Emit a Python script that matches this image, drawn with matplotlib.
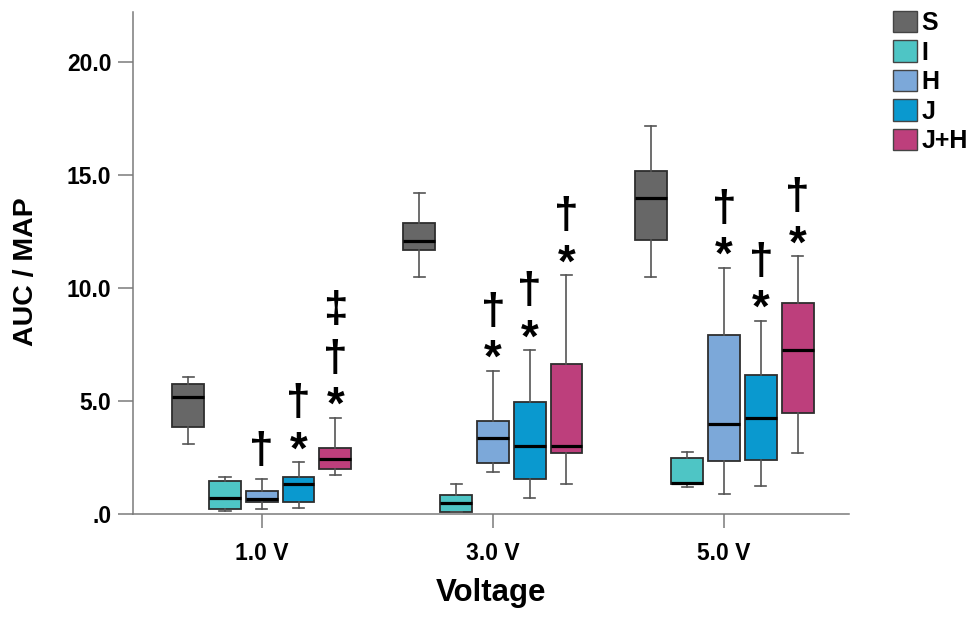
import matplotlib
matplotlib.use("Agg")
import matplotlib.pyplot as plt
from matplotlib.patches import Patch
from matplotlib.textpath import TextPath
from matplotlib.font_manager import FontProperties

# ---------------- data ----------------
groups = ["1.0 V", "3.0 V", "5.0 V"]
series = ["S", "I", "H", "J", "J+H"]
colors = ["#676767", "#4EC5C5", "#7CA8D9", "#0A99CF", "#BD3F7C"]

# per series, values for groups 1.0 V, 3.0 V, 5.0 V
S_whislo = [3.11, 10.46, 10.47]
S_q1     = [3.84, 11.68, 12.12]
S_med    = [5.17, 12.06, 13.96]
S_q3     = [5.74, 12.87, 15.17]
S_whishi = [6.05, 14.17, 17.16]

I_whislo = [0.13, 0.09, 1.22]
I_q1     = [0.23, 0.12, 1.34]
I_med    = [0.71, 0.51, 1.37]
I_q3     = [1.47, 0.87, 2.50]
I_whishi = [1.63, 1.34, 2.77]

H_whislo = [0.23, 1.87, 0.88]
H_q1     = [0.53, 2.25, 2.37]
H_med    = [0.66, 3.39, 3.98]
H_q3     = [1.04, 4.12, 7.92]
H_whishi = [1.56, 6.35, 10.90]

J_whislo = [0.28, 0.72, 1.27]
J_q1     = [0.53, 1.55, 2.41]
J_med    = [1.34, 3.00, 4.27]
J_q3     = [1.65, 4.96, 6.16]
J_whishi = [2.31, 7.26, 8.56]

JH_whislo = [1.75, 1.35, 2.69]
JH_q1     = [1.99, 2.69, 4.46]
JH_med    = [2.43, 3.02, 7.26]
JH_q3     = [2.93, 6.63, 9.32]
JH_whishi = [4.27, 10.57, 11.41]

# significance marks, read top-to-bottom as printed above each box
S_marks  = ["", "", ""]
I_marks  = ["", "", ""]
H_marks  = ["†", "†*", "†*"]
J_marks  = ["†*", "†*", "†*"]
JH_marks = ["‡†*", "†*", "†*"]

y_ticks = [0, 5, 10, 15, 20]
y_ticklabels = [".0", "5.0", "10.0", "15.0", "20.0"]

all_stats = [
    (S_whislo, S_q1, S_med, S_q3, S_whishi, S_marks),
    (I_whislo, I_q1, I_med, I_q3, I_whishi, I_marks),
    (H_whislo, H_q1, H_med, H_q3, H_whishi, H_marks),
    (J_whislo, J_q1, J_med, J_q3, J_whishi, J_marks),
    (JH_whislo, JH_q1, JH_med, JH_q3, JH_whishi, JH_marks),
]

# ---------------- figure ----------------
DPI = 100
fig = plt.figure(figsize=(9.78, 6.31), dpi=DPI)
ax = fig.add_axes([133 / 978, 1 - 514.3 / 631, (849 - 133) / 978, (514.3 - 11.7) / 631])

FONT = "Liberation Sans"
step = 0.159
width = 0.138
axis_col = "#7a7a7a"

fp_sym = FontProperties(family=FONT, weight="bold")
target_px = {"*": 17.0, "†": 35.0, "‡": 35.0}
sym_info = {}
for s, hpx in target_px.items():
    ext = TextPath((0, 0), s, size=100, prop=fp_sym).get_extents()
    size = (hpx * 72 / DPI) / ext.height * 100
    sym_info[s] = (size, ext.y0 * size / 100, ext.height * size / 100)

gap0_pt = 13 * 72 / DPI
gap_pt = 14 * 72 / DPI

for si, (wlo, q1, med, q3, whi, marks) in enumerate(all_stats):
    stats = []
    pos = []
    for gi in range(len(groups)):
        stats.append(dict(med=med[gi], q1=q1[gi], q3=q3[gi],
                          whislo=wlo[gi], whishi=whi[gi], fliers=[]))
        pos.append(gi + (si - 2) * step)
    ax.bxp(stats, positions=pos, widths=width, patch_artist=True,
           showfliers=False, capwidths=0.048,
           boxprops=dict(facecolor=colors[si], edgecolor="#2e2e2e", linewidth=1.3),
           medianprops=dict(color="black", linewidth=2.3),
           whiskerprops=dict(color="#555555", linewidth=1.2),
           capprops=dict(color="#555555", linewidth=1.2),
           manage_ticks=False, zorder=3)
    for gi in range(len(groups)):
        cursor = gap0_pt
        for sym in reversed(marks[gi]):
            size, y0, h = sym_info[sym]
            ax.annotate(sym, xy=(pos[gi], whi[gi]), xytext=(0, cursor - y0),
                        textcoords="offset points", ha="center", va="baseline",
                        fontsize=size, fontweight="bold", family=FONT,
                        color="black", annotation_clip=False)
            cursor += h + gap_pt

ax.set_xlim(-0.557, 2.54)
ax.set_ylim(0, 22.2)
ax.set_xticks(range(len(groups)))
ax.set_xticklabels(groups, fontsize=16.5, fontweight="bold", family=FONT)
ax.set_yticks(y_ticks)
ax.set_yticklabels(y_ticklabels, fontsize=16.5, fontweight="bold", family=FONT)
ax.tick_params(axis="x", length=10, width=1.1, color=axis_col, pad=10)
ax.tick_params(axis="y", length=10.5, width=1.1, color=axis_col, pad=5)
for side in ("top", "right"):
    ax.spines[side].set_visible(False)
for side in ("left", "bottom"):
    ax.spines[side].set_color(axis_col)
    ax.spines[side].set_linewidth(1.1)

ax.set_xlabel("Voltage", fontsize=22.5, fontweight="bold", family=FONT, va="top")
ax.xaxis.set_label_coords(0.5, -0.127)
ax.set_ylabel("AUC / MAP", fontsize=20.5, fontweight="bold", family=FONT)
ax.yaxis.set_label_coords(-0.131, 0.482)

handles = [Patch(facecolor=c, edgecolor="#444444", linewidth=1.0) for c in colors]
leg = fig.legend(handles, series, loc="upper left",
                 bbox_to_anchor=(884 / 978, 1 - 2 / 631), frameon=False,
                 prop=FontProperties(family=FONT, weight="bold", size=18),
                 handlelength=0.96, handleheight=0.96, handletextpad=0.2,
                 labelspacing=0.2, borderpad=0.35, borderaxespad=0)

fig.savefig("out.png", dpi=DPI)
